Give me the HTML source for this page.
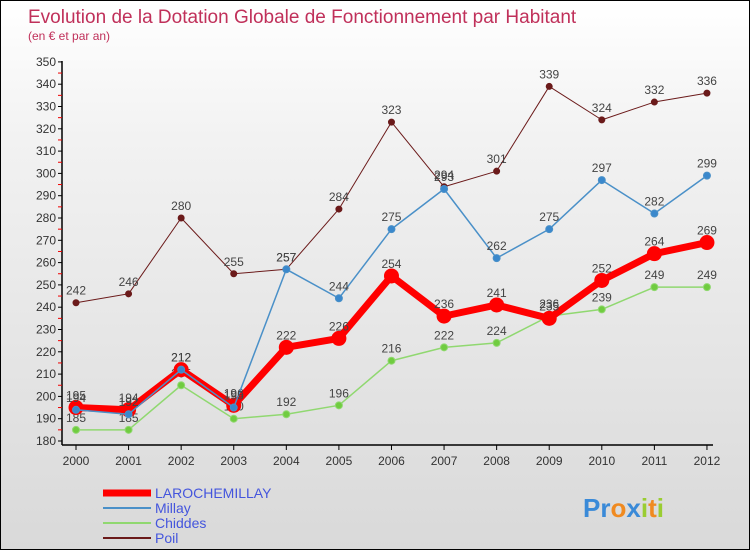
<!DOCTYPE html>
<html><head><meta charset="utf-8"><style>
body{margin:0}
#c{width:750px;height:550px;position:relative;overflow:hidden;border:1px solid #000;box-sizing:border-box;background:linear-gradient(#fff 0%,#f2f2f2 25%,#d9d9d9 100%);font-family:"Liberation Sans",sans-serif}
</style></head><body>
<div id="c">
<svg id="s" width="750" height="550" style="position:absolute;left:0;top:0"></svg>
</div>
<script>
const years=["2000","2001","2002","2003","2004","2005","2006","2007","2008","2009","2010","2011","2012"];
const laroche=[195,194,212,196,222,226,254,236,241,235,252,264,269];
const millay=[194,192,212,195,257,244,275,293,262,275,297,282,299];
const chiddes=[185,185,205,190,192,196,216,222,224,236,239,249,249];
const poil=[242,246,280,255,257,284,323,294,301,339,324,332,336];
const yTicks=[180,190,200,210,220,230,240,250,260,270,280,290,300,310,320,330,340,350];
const NS="http://www.w3.org/2000/svg";
const s=document.getElementById('s');
const X=i=>75+i*52.58;
const Y=v=>440-(v-180)*2.23;
function mk(t,a,p){const e=document.createElementNS(NS,t);for(const k in a)e.setAttribute(k,a[k]);(p||s).appendChild(e);return e;}
let e;
e=mk('text',{x:27,y:22,'font-size':19,fill:'#c0305a'});e.textContent='Evolution de la Dotation Globale de Fonctionnement par Habitant';


e=mk('text',{x:27,y:39,'font-size':12,fill:'#c0305a'});e.textContent='(en € et par an)';


e=mk('line',{x1:61,y1:60,x2:61,y2:444,stroke:'#000','stroke-width':1.5});


e=mk('line',{x1:61,y1:444,x2:712,y2:444,stroke:'#000','stroke-width':1.5});


yTicks.forEach(v=>{
 mk('line',{x1:57,y1:Y(v),x2:61,y2:Y(v),stroke:'#000'});
 if(v<350)mk('line',{x1:57,y1:Y(v+5),x2:61,y2:Y(v+5),stroke:'#e00'});
 e=mk('text',{x:55,y:Y(v)+4,'font-size':12,fill:'#333','text-anchor':'end'});e.textContent=v;
 
 
});
years.forEach((y,i)=>{
 mk('line',{x1:X(i),y1:444,x2:X(i),y2:449,stroke:'#000'});
 e=mk('text',{x:X(i),y:464,'font-size':12,fill:'#333','text-anchor':'middle'});e.textContent=y;
 
 
});
function series(d,col,w,r,fillc,name){
 const g=mk('g',{});
 
 
 e=mk('polyline',{points:d.map((v,i)=>X(i)+','+Y(v)).join(' '),fill:'none',stroke:col,'stroke-width':w,'stroke-linejoin':'round'},g);
 
 
 d.forEach((v,i)=>{
  e=mk('circle',{cx:X(i),cy:Y(v),r:r,fill:fillc,stroke:col,'stroke-width':1},g);
  
  
  e=mk('text',{x:X(i),y:Y(v)-8,'font-size':12,fill:'#444','text-anchor':'middle'},g);e.textContent=v;
  
  
 });
}
series(poil,'#6b1a1a',1,3,'#6b1a1a','poil');
series(chiddes,'#90d870',1.5,3.5,'#70cc40','chiddes');
series(laroche,'#ff0000',7,7,'#ff0000','larochemillay');
series(millay,'#4a90c8',1.5,3.5,'#3a88cc','millay');
const leg=[['LAROCHEMILLAY','#ff0000',7],['Millay','#4a90c8',2],['Chiddes','#90d870',2],['Poil','#6b1a1a',2]];
leg.forEach((l,i)=>{
 const yy=492+i*15;
 e=mk('line',{x1:102,y1:yy,x2:150,y2:yy,stroke:l[1],'stroke-width':l[2]});
 
 
 e=mk('text',{x:154,y:yy+5,'font-size':14,fill:'#4455dd'});e.textContent=l[0];
 
 
});
const logo=mk('text',{x:582,y:516,'font-size':26,'font-weight':'bold'});


[['P','#3a8ad8'],['r','#3a8ad8'],['o','#f08a20'],['x','#3a8ad8'],['i','#9acd32'],['t','#f08a20'],['i','#9acd32']].forEach(c=>{const t=mk('tspan',{fill:c[1]},logo);t.textContent=c[0];});
</script>
</body></html>
